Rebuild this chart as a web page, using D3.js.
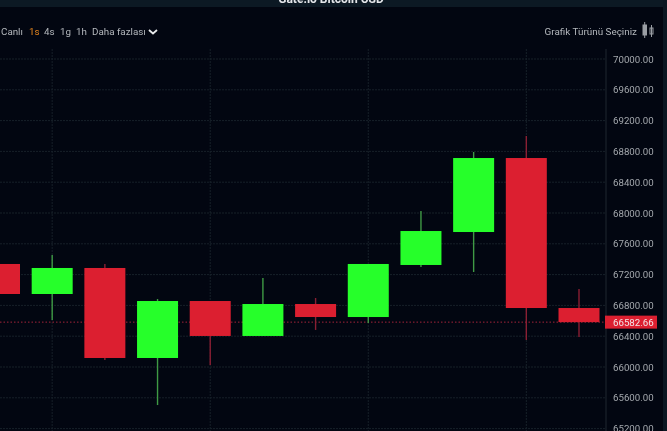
<!DOCTYPE html>
<html>
<head>
<meta charset="utf-8">
<script src="https://cdnjs.cloudflare.com/ajax/libs/d3/7.8.5/d3.min.js"></script>
<style>
html, body { margin: 0; padding: 0; background: #020611; overflow: hidden; }
svg { display: block; filter: blur(0.35px); }
text { font-family: Roboto, "Open Sans", sans-serif; }
</style>
</head>
<body>
<div id="chart"></div>
<script>
// candles, index 0 is cut by the left edge
const candleIndex = [0, 1, 2, 3, 4, 5, 6, 7, 8, 9, 10, 11];
const opens  = [67338, 66948, 67286, 66117, 66857, 66403, 66818, 66649, 67325, 67753, 68714, 66766];
const closes = [66948, 67286, 66117, 66857, 66403, 66818, 66649, 67338, 67766, 68714, 66766, 66582.66];
const highs  = [67338, 67455, 67338, 66883, 66857, 67156, 66896, 67338, 68026, 68792, 69000, 67013];
const lows   = [66948, 66610, 66091, 65506, 66026, 66403, 66481, 66571, 67299, 67234, 66351, 66390];

const priceTicks = [70000, 69600, 69200, 68800, 68400, 68000, 67600, 67200, 66800, 66400, 66000, 65600, 65200];
const gridCandles = [1, 4, 7, 10];
const lastPrice = 66582.66;
const periods = ["Canlı", "1s", "4s", "1g", "1h", "Daha fazlası"];
const periodX = [1, 29, 44, 60, 76, 92];

const width = 667, height = 431, axisX = 606;
const up = "#26ff2a", down = "#dc1f30";
const upWick = "#3f9a45", downWick = "#8a1f33";

const x = d3.scaleLinear().domain([0, 11]).range([-0.5, 579]);
const y = d3.scaleLinear().domain([70000, 65200]).range([59, 428.6]);
const bodyWidth = 41;

const svg = d3.select("#chart").append("svg")
    .attr("width", width)
    .attr("height", height);

svg.append("rect").attr("width", width).attr("height", height).attr("fill", "#020611");

// title strip at the top, cut off in the reference
svg.append("rect").attr("width", width).attr("height", 7).attr("fill", "#0c1924");
svg.append("text").attr("x", 331).attr("y", 3)
    .attr("text-anchor", "middle").attr("fill", "#e4e6ea")
    .style("font-size", "12px").style("font-weight", "700")
    .text("Gate.io Bitcoin USD");

// right edge stripe
svg.append("rect").attr("x", 663).attr("y", 0).attr("width", 4).attr("height", height).attr("fill", "#0b1722");

// grid
svg.append("g").selectAll("line.h")
    .data(priceTicks)
    .enter().append("line")
    .attr("x1", 0).attr("x2", axisX)
    .attr("y1", d => y(d)).attr("y2", d => y(d))
    .attr("stroke", "#172029").attr("stroke-dasharray", "2,1");

svg.append("g").selectAll("line.v")
    .data(gridCandles)
    .enter().append("line")
    .attr("x1", d => x(d)).attr("x2", d => x(d))
    .attr("y1", 49).attr("y2", height)
    .attr("stroke", "#172029").attr("stroke-dasharray", "2,1");

svg.append("line").attr("x1", axisX).attr("x2", axisX).attr("y1", 49).attr("y2", height).attr("stroke", "#1e2630");

// last price line
svg.append("line")
    .attr("x1", 0).attr("x2", axisX)
    .attr("y1", y(lastPrice)).attr("y2", y(lastPrice))
    .attr("stroke", "#a3243a").attr("stroke-dasharray", "1.5,2");

// price axis
const yAxis = d3.axisRight(y).tickValues(priceTicks).tickSize(0).tickPadding(7)
    .tickFormat(d => d.toFixed(2));
const axisG = svg.append("g").attr("transform", "translate(" + axisX + ",0)").call(yAxis);
axisG.select(".domain").remove();
axisG.selectAll("text").attr("fill", "#a4a8ad").style("font-size", "9.7px");

// candles
const candles = svg.append("g").selectAll("g")
    .data(candleIndex)
    .enter().append("g");

candles.append("line")
    .attr("x1", i => x(i)).attr("x2", i => x(i))
    .attr("y1", i => y(highs[i])).attr("y2", i => y(lows[i]))
    .attr("stroke", i => closes[i] >= opens[i] ? upWick : downWick)
    .attr("stroke-width", 1.4);

candles.append("rect")
    .attr("x", i => x(i) - bodyWidth / 2)
    .attr("width", bodyWidth)
    .attr("y", i => y(Math.max(opens[i], closes[i])))
    .attr("height", i => Math.abs(y(opens[i]) - y(closes[i])))
    .attr("fill", i => closes[i] >= opens[i] ? up : down);

// last price label
svg.append("rect").attr("x", 605).attr("y", y(lastPrice) - 6.5).attr("width", 52).attr("height", 13).attr("fill", down);
svg.append("text").attr("x", 613).attr("y", y(lastPrice) + 3.5)
    .attr("fill", "#f3e4e6").style("font-size", "9.7px")
    .text(lastPrice.toFixed(2));

// toolbar
svg.append("g").selectAll("text")
    .data(periods)
    .enter().append("text")
    .attr("x", (d, i) => periodX[i]).attr("y", 35)
    .attr("fill", d => d === "1s" ? "#e8871e" : "#b4b8bd")
    .style("font-size", "9.8px")
    .text(d => d);

svg.append("path").attr("d", "M149 30l4 3.5l4-3.5")
    .attr("fill", "none").attr("stroke", "#e8eaec").attr("stroke-width", 1.8);

svg.append("text").attr("x", 637).attr("y", 35).attr("text-anchor", "end")
    .attr("fill", "#b4b8bd").style("font-size", "9.9px")
    .text("Grafik Türünü Seçiniz");

// small candle icon next to the chart type picker
const icon = svg.append("g").attr("fill", "none").attr("stroke", "#9a9ea4");
icon.append("rect").attr("x", 643).attr("y", 25).attr("width", 3.5).attr("height", 10).attr("fill", "#9a9ea4");
icon.append("line").attr("x1", 644.7).attr("x2", 644.7).attr("y1", 22).attr("y2", 38);
icon.append("rect").attr("x", 650).attr("y", 28).attr("width", 3).attr("height", 6);
icon.append("line").attr("x1", 651.5).attr("x2", 651.5).attr("y1", 25).attr("y2", 37);
</script>
</body>
</html>
